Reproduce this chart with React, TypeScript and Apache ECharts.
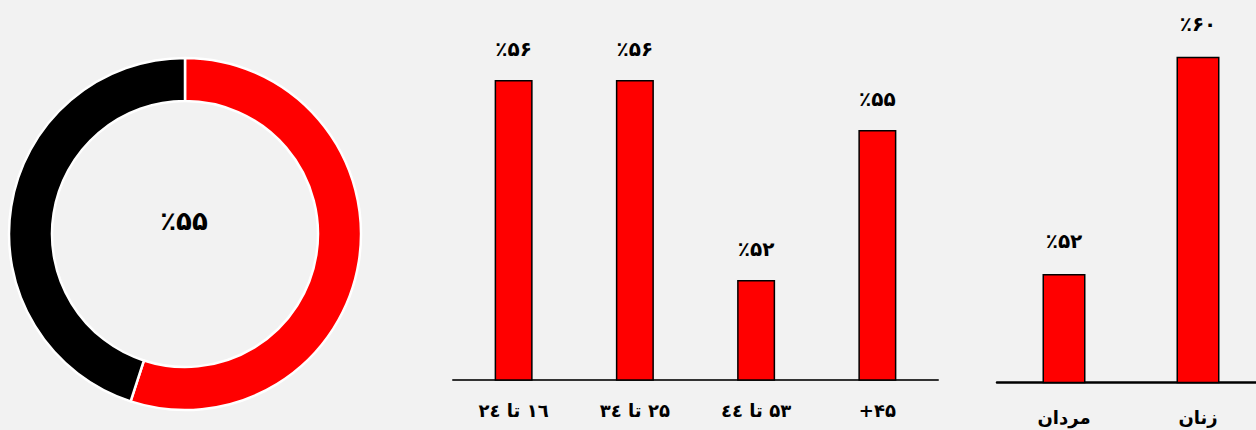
import React, { useEffect, useRef } from "react";
import * as echarts from "echarts";

const pieNames = ["بله", "خیر"];
const pieValues = [55, 45];
const pieCenterLabel = "٪۵۵";

const ageCategories = ["۱٦ تا ۲٤", "۲۵ تا ۳٤", "۵۳ تا ٤٤", "۴۵+"];
const ageValues = [56, 56, 52, 55];
const ageLabels = ["٪۵۶", "٪۵۶", "٪۵۲", "٪۵۵"];

const genderCategories = ["مردان", "زنان"];
const genderValues = [52, 60];
const genderLabels = ["٪۵۲", "٪۶۰"];

const RED = "#ff0000";
const BLACK = "#000000";
const FONT = "DejaVu Sans";
const rtl = (s: string) => "\u202B" + s + "\u202C";

export default function App() {
  const ref = useRef<HTMLDivElement>(null);
  useEffect(() => {
    if (!ref.current) return;
    const chart = echarts.init(ref.current, undefined, { renderer: "svg" });
    chart.setOption({
      animation: false,
      backgroundColor: "#f2f2f2",
      textStyle: { fontFamily: FONT },
      grid: [
        { left: 453, width: 485, top: 30, height: 350 },
        { left: 997, width: 268, top: 29.7, height: 352.7 },
      ],
      xAxis: [
        {
          type: "category",
          gridIndex: 0,
          data: ageCategories.map(rtl),
          axisLine: { show: true, lineStyle: { color: "#333", width: 2 } },
          axisTick: { show: false },
          axisLabel: { color: "#000", fontSize: 18, fontWeight: "bold", fontFamily: FONT, margin: 21 },
        },
        {
          type: "category",
          gridIndex: 1,
          data: genderCategories.map(rtl),
          axisLine: { show: true, lineStyle: { color: "#000", width: 2.5 } },
          axisTick: { show: false },
          axisLabel: { color: "#000", fontSize: 18, fontWeight: "bold", fontFamily: FONT, margin: 26 },
        },
      ],
      yAxis: [
        { type: "value", gridIndex: 0, min: 50, max: 57, show: false },
        { type: "value", gridIndex: 1, min: 48, max: 61, show: false },
      ],
      graphic: [
        {
          type: "text",
          x: 184,
          y: 221,
          style: {
            text: pieCenterLabel,
            fill: "#000",
            font: `bold 26px "${FONT}"`,
            textAlign: "center",
            textVerticalAlign: "middle",
          },
        },
      ],
      series: [
        {
          type: "pie",
          center: [185, 234],
          radius: [133, 176],
          startAngle: 90,
          clockwise: true,
          label: { show: false },
          labelLine: { show: false },
          emphasis: { disabled: true },
          itemStyle: { borderColor: "#ffffff", borderWidth: 2.5 },
          data: pieNames.map((n, i) => ({
            name: n,
            value: pieValues[i],
            itemStyle: { color: i === 0 ? RED : BLACK },
          })),
        },
        {
          type: "bar",
          xAxisIndex: 0,
          yAxisIndex: 0,
          barWidth: 38,
          data: ageValues,
          itemStyle: { color: RED, borderColor: "#000", borderWidth: 1.5 },
          label: {
            show: true,
            position: "top",
            distance: 21,
            color: "#000",
            fontSize: 20,
            fontWeight: "bold",
            fontFamily: FONT,
            formatter: (p: any) => ageLabels[p.dataIndex],
          },
        },
        {
          type: "bar",
          xAxisIndex: 1,
          yAxisIndex: 1,
          barWidth: 43,
          data: genderValues,
          itemStyle: { color: RED, borderColor: "#000", borderWidth: 1.5 },
          label: {
            show: true,
            position: "top",
            distance: 23,
            color: "#000",
            fontSize: 20,
            fontWeight: "bold",
            fontFamily: FONT,
            formatter: (p: any) => genderLabels[p.dataIndex],
          },
        },
      ],
    });
    return () => chart.dispose();
  }, []);
  return (
    <div
      style={{
        position: "fixed",
        left: 0,
        top: 0,
        width: 1256,
        height: 430,
        overflow: "hidden",
        background: "#f2f2f2",
      }}
    >
      <div ref={ref} style={{ width: 1280, height: 430 }} />
    </div>
  );
}
